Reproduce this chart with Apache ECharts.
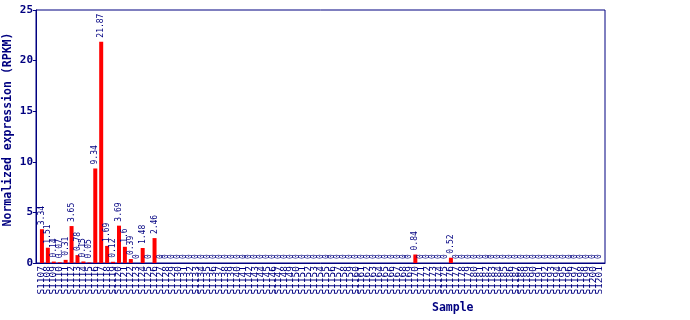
<!DOCTYPE html>
<html><head><meta charset="utf-8">
<script src="https://cdn.jsdelivr.net/npm/echarts@6/dist/echarts.min.js"></script>
<style>html,body{margin:0;padding:0;background:#fff}#c{width:690px;height:320px}</style>
</head><body><div id="c"></div>
<script>
const samples = ['S1107','S1108','S1109','S1110','S1111','S1112','S1113','S1114','S1115','S1116',
'S1117','S1118','S1119','S1120','S1121','S1122','S1123','S1124','S1125','S1126',
'S1127','S1128','S1129','S1130','S1131','S1132','S1133','S1134','S1135','S1136',
'S1137','S1138','S1139','S1140','S1141','S1142','S1143','S1144','S1145','S1146',
'S1147','S1148','S1149','S1150','S1151','S1152','S1153','S1154','S1155','S1156',
'S1157','S1158','S1159','S1160','S1161','S1162','S1163','S1164','S1165','S1166',
'S1167','S1168','S1169','S1170','S1171','S1172','S1173','S1174','S1175','S1176',
'S1177','S1178','S1179','S1180','S1181','S1182','S1183','S1184','S1185','S1186',
'S1187','S1188','S1189','S1190','S1191','S1192','S1193','S1194','S1195','S1196',
'S1197','S1198','S1199','S1200','S1201'];
const values = [3.34,1.51,0.14,0.07,0.31,3.65,0.78,0.15,0.05,9.34,
21.87,1.69,0.12,3.69,1.6,0.39,0,1.48,0,2.46,
0,0,0,0,0,0,0,0,0,0,
0,0,0,0,0,0,0,0,0,0,
0,0,0,0,0,0,0,0,0,0,
0,0,0,0,0,0,0,0,0,0,
0,0,0,0.84,0,0,0,0,0,0.52,
0,0,0,0,0,0,0,0,0,0,
0,0,0,0,0,0,0,0,0,0,
0,0,0,0,0];
const yTicks = [0,5,10,15,20,25];

const navy = '#000080';
const font = 'DejaVu Sans Mono';
const cats = [''].concat(samples, ['']);
const data = [null].concat(values, [null]);

const chart = echarts.init(document.getElementById('c'), null, {renderer:'canvas'});
chart.setOption({
  animation:false,
  grid:{left:36,right:85,top:10,bottom:57,show:true,borderColor:navy,borderWidth:1,
    containLabel:false,outerBoundsMode:'none'},
  xAxis:{type:'category',data:cats,boundaryGap:false,
    axisLine:{lineStyle:{color:navy,width:1}},axisTick:{show:false},
    axisLabel:{interval:0,rotate:90,color:navy,fontFamily:font,fontSize:9.5,margin:3}},
  yAxis:{type:'value',min:yTicks[0],max:yTicks[yTicks.length-1],interval:5,
    name:'Normalized expression (RPKM)',nameLocation:'middle',nameGap:22,nameMoveOverlap:false,
    nameTextStyle:{color:navy,fontFamily:font,fontWeight:'bold',fontSize:11.5,padding:[0,0,0,14]},
    axisLine:{show:true,lineStyle:{color:navy}},axisTick:{show:true,length:3,lineStyle:{color:navy}},
    splitLine:{show:false},
    axisLabel:{color:navy,fontFamily:font,fontWeight:'bold',fontSize:11,margin:3}},
  graphic:[{type:'text',left:432,top:302,style:{text:'Sample',fill:navy,font:'bold 11.5px "DejaVu Sans Mono"'}}],
  series:[{type:'bar',data:data,barWidth:4,itemStyle:{color:'#ff0000'},
    label:{show:true,position:'top',rotate:90,align:'left',verticalAlign:'middle',distance:4,
      color:navy,fontFamily:font,fontSize:8,formatter:p=>String(p.value)}}]
});
</script></body></html>
